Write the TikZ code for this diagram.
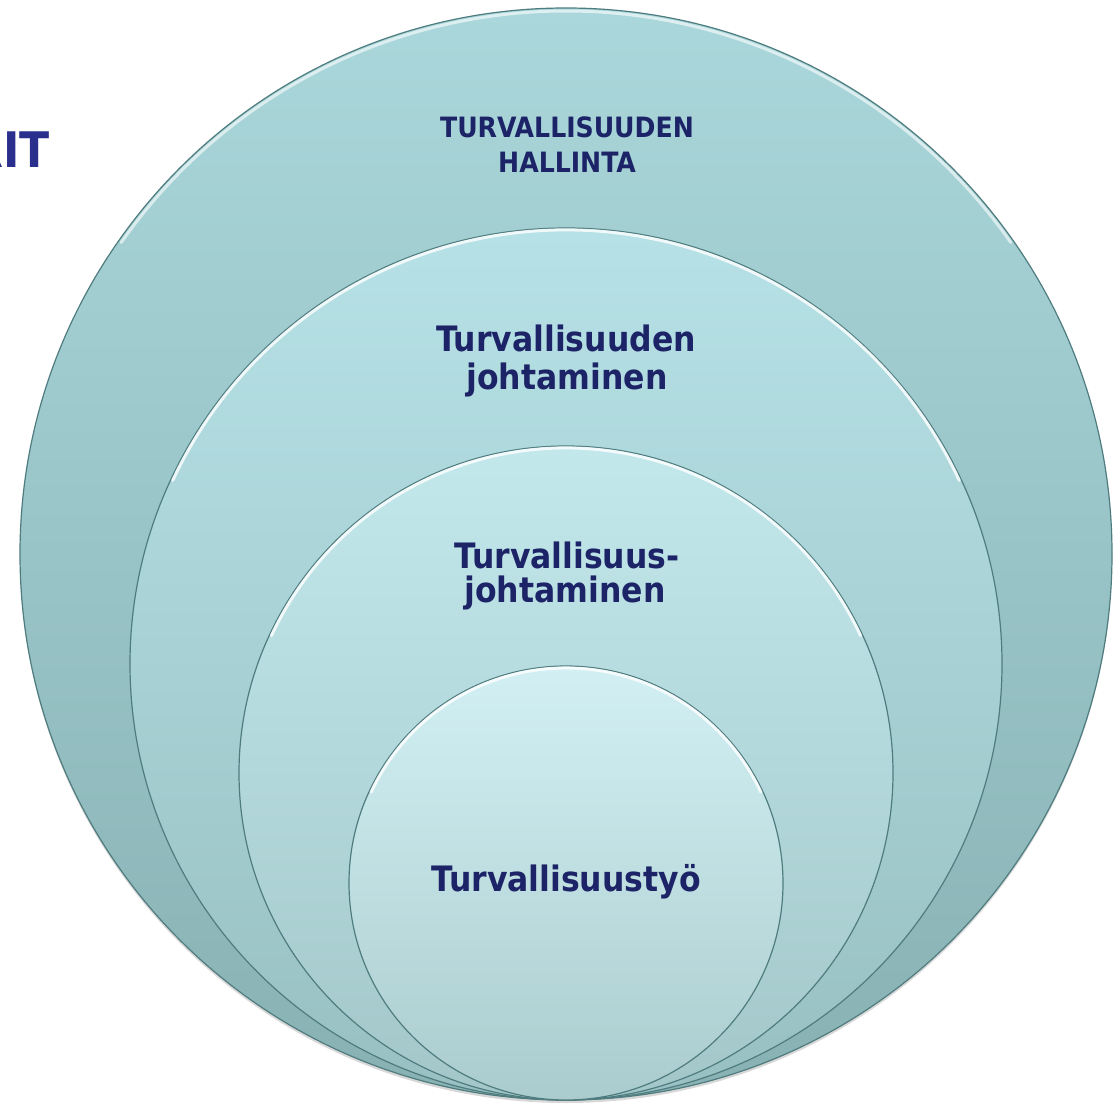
\documentclass[tikz,border=0pt]{standalone}
\usepackage{fontspec}
\setmainfont{DejaVu Sans Condensed}[BoldFont={DejaVu Sans Condensed Bold}]
\usetikzlibrary{shadows}
\definecolor{txt}{HTML}{1C2366}
\definecolor{ritc}{HTML}{2A2E8C}
\definecolor{edge}{HTML}{4F7C7F}
\definecolor{aT}{HTML}{AAD7DB}\definecolor{aB}{HTML}{88B1B3}
\definecolor{bT}{HTML}{B6E1E6}\definecolor{bB}{HTML}{98C0C2}
\definecolor{cT}{HTML}{C2E8EC}\definecolor{cB}{HTML}{A3C7C9}
\definecolor{dT}{HTML}{D2F0F3}\definecolor{dB}{HTML}{ABCCCE}
\tikzset{
  ring/.style={draw=edge, line width=1.2pt},
  hilite/.style={draw=white, line width=3pt, opacity=0.8, line cap=round},
  lbl/.style={text=txt, font=\bfseries, anchor=base, inner sep=0pt}
}
\begin{document}
\begin{tikzpicture}[x=1pt,y=-1pt]
\useasboundingbox (0,0) rectangle (1114,1107);
\fill[white] (0,0) rectangle (1114,1107);
% outer title fragment
\node[text=ritc, font=\fontsize{49}{55}\selectfont\bfseries, anchor=base east, inner sep=0pt] (rit) at (50,168) {RIT};
% circles
\path[ring, top color=aT, bottom color=aB, drop shadow={opacity=0.3, shadow xshift=0pt, shadow yshift=-3pt}] (566,554) circle[radius=546pt];
\draw[hilite, opacity=0.6] ([shift={(35:543pt)}]566,554) arc[start angle=35, end angle=145, radius=543pt];
\path[ring, top color=bT, bottom color=bB] (566,664) circle[radius=436pt];
\draw[hilite] ([shift={(25:434pt)}]566,664) arc[start angle=25, end angle=155, radius=434pt];
\path[ring, top color=cT, bottom color=cB] (566,773) circle[radius=327pt];
\draw[hilite] ([shift={(25:325pt)}]566,773) arc[start angle=25, end angle=155, radius=325pt];
\path[ring, top color=dT, bottom color=dB] (566,883) circle[radius=217pt];
\draw[hilite] ([shift={(25:215pt)}]566,883) arc[start angle=25, end angle=155, radius=215pt];
% labels
\node[lbl, font=\fontsize{28}{32}\selectfont\bfseries] (l1a) at (567,138) {TURVALLISUUDEN};
\node[lbl, font=\fontsize{28}{32}\selectfont\bfseries] (l1b) at (567,173) {HALLINTA};
\node[lbl, font=\fontsize{35}{38}\selectfont\bfseries] (l2a) at (566,352) {Turvallisuuden};
\node[lbl, font=\fontsize{35}{38}\selectfont\bfseries] (l2b) at (567,389) {johtaminen};
\node[lbl, font=\fontsize{35}{38}\selectfont\bfseries] (l3a) at (567,568) {Turvallisuus-};
\node[lbl, font=\fontsize{35}{38}\selectfont\bfseries] (l3b) at (565,602) {johtaminen};
\node[lbl, font=\fontsize{35}{38}\selectfont\bfseries] (l4) at (566,891) {Turvallisuustyö};
\end{tikzpicture}
\end{document}
